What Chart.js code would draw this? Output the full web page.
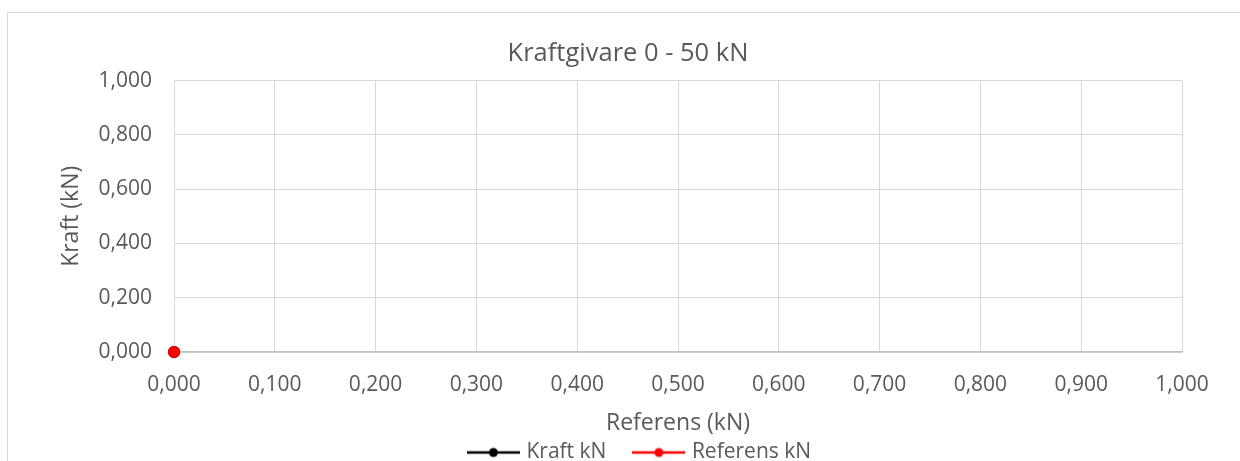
<!DOCTYPE html>
<html>
<head>
<meta charset="utf-8">
<script src="https://cdn.jsdelivr.net/npm/chart.js@4"></script>
<style>
  html, body { margin: 0; padding: 0; overflow: hidden; background: #fff; }
  #frame { position: absolute; left: 7px; top: 12px; width: 1300px; height: 520px; border: 1px solid #d9d9d9; }
  #wrap { position: absolute; left: 0; top: 0; width: 1240px; height: 473px; }
</style>
</head>
<body>
<div id="frame"></div>
<div id="wrap"><canvas id="chart"></canvas></div>
<script>
const seriesNames = ["Kraft kN", "Referens kN"];
const seriesColors = ["#000000", "#ff0000"];
const kraftData = [{ x: 0, y: 0 }];
const referensData = [{ x: 0, y: 0 }];
const xTicks = [0, 0.1, 0.2, 0.3, 0.4, 0.5, 0.6, 0.7, 0.8, 0.9, 1];
const yTicks = [0, 0.2, 0.4, 0.6, 0.8, 1];

const FONT = "'Open Sans', sans-serif";
const TEXT = "#595959";

function fmt(v) {
  return Number(v).toFixed(3).replace(".", ",");
}

// legend marker: short line with a dot in the middle
function legendMarker(color) {
  const c = document.createElement("canvas");
  c.width = 53;
  c.height = 12;
  const g = c.getContext("2d");
  g.strokeStyle = color;
  g.lineWidth = 2.5;
  g.beginPath();
  g.moveTo(0, 6);
  g.lineTo(53, 6);
  g.stroke();
  g.fillStyle = color;
  g.beginPath();
  g.arc(26.5, 6, 4.5, 0, Math.PI * 2);
  g.fill();
  return c;
}

// nudge the legend a bit to the right, like the original
const legendShift = {
  id: "legendShift",
  afterLayout(chart) {
    chart.legend.left += 13;
    chart.legend.right += 13;
  },
};

new Chart(document.getElementById("chart"), {
  type: "scatter",
  plugins: [legendShift],
  data: {
    datasets: [
      {
        label: seriesNames[0],
        data: kraftData,
        showLine: true,
        borderColor: seriesColors[0],
        backgroundColor: seriesColors[0],
        borderWidth: 2.25,
        pointRadius: 5,
        order: 1,
      },
      {
        label: seriesNames[1],
        data: referensData,
        showLine: true,
        borderColor: seriesColors[1],
        backgroundColor: seriesColors[1],
        borderWidth: 2.25,
        pointRadius: 5,
        order: 0,
      },
    ],
  },
  options: {
    responsive: true,
    maintainAspectRatio: false,
    animation: false,
    clip: false,
    layout: { padding: { left: 74, right: 58, top: 0, bottom: 0 } },
    plugins: {
      tooltip: { enabled: false },
      title: {
        display: true,
        text: "Kraftgivare 0 - 50 kN",
        color: TEXT,
        font: { family: FONT, size: 25.5, weight: "normal" },
        padding: { top: 38, bottom: 12 },
      },
      legend: {
        position: "bottom",
        labels: {
          color: TEXT,
          font: { family: FONT, size: 21 },
          usePointStyle: true,
          pointStyleWidth: 45,
          padding: 30,
          sort: (a, b) => a.datasetIndex - b.datasetIndex,
          generateLabels: (chart) =>
            chart.data.datasets.map((ds, i) => ({
              text: ds.label,
              fontColor: TEXT,
              pointStyle: legendMarker(seriesColors[i]),
              strokeStyle: "transparent",
              fillStyle: "transparent",
              lineWidth: 0,
              datasetIndex: i,
              hidden: false,
            })),
        },
      },
    },
    scales: {
      x: {
        type: "linear",
        min: 0,
        max: 1,
        afterBuildTicks: (s) => { s.ticks = xTicks.map((v) => ({ value: v })); },
        afterFit: (s) => { s.height = 60; },
        ticks: {
          color: TEXT,
          font: { family: FONT, size: 21 },
          padding: 20,
          maxRotation: 0,
          callback: (v) => fmt(v),
        },
        grid: { color: "#d9d9d9", lineWidth: 1, drawTicks: false },
        border: { color: "#bfbfbf", width: 1.5 },
        title: {
          display: true,
          text: "Referens (kN)",
          color: TEXT,
          font: { family: FONT, size: 23 },
          padding: { top: 0, bottom: -25 },
        },
      },
      y: {
        type: "linear",
        min: 0,
        max: 1,
        afterBuildTicks: (s) => { s.ticks = yTicks.map((v) => ({ value: v })); },
        afterFit: (s) => { s.width = 100; },
        ticks: {
          color: TEXT,
          font: { family: FONT, size: 21 },
          padding: 22,
          callback: (v) => fmt(v),
        },
        grid: { color: "#d9d9d9", lineWidth: 1, drawTicks: false },
        border: { display: false },
        title: {
          display: true,
          text: "Kraft (kN)",
          color: TEXT,
          font: { family: FONT, size: 23 },
          padding: { top: -16, bottom: 0 },
        },
      },
    },
  },
});
</script>
</body>
</html>
